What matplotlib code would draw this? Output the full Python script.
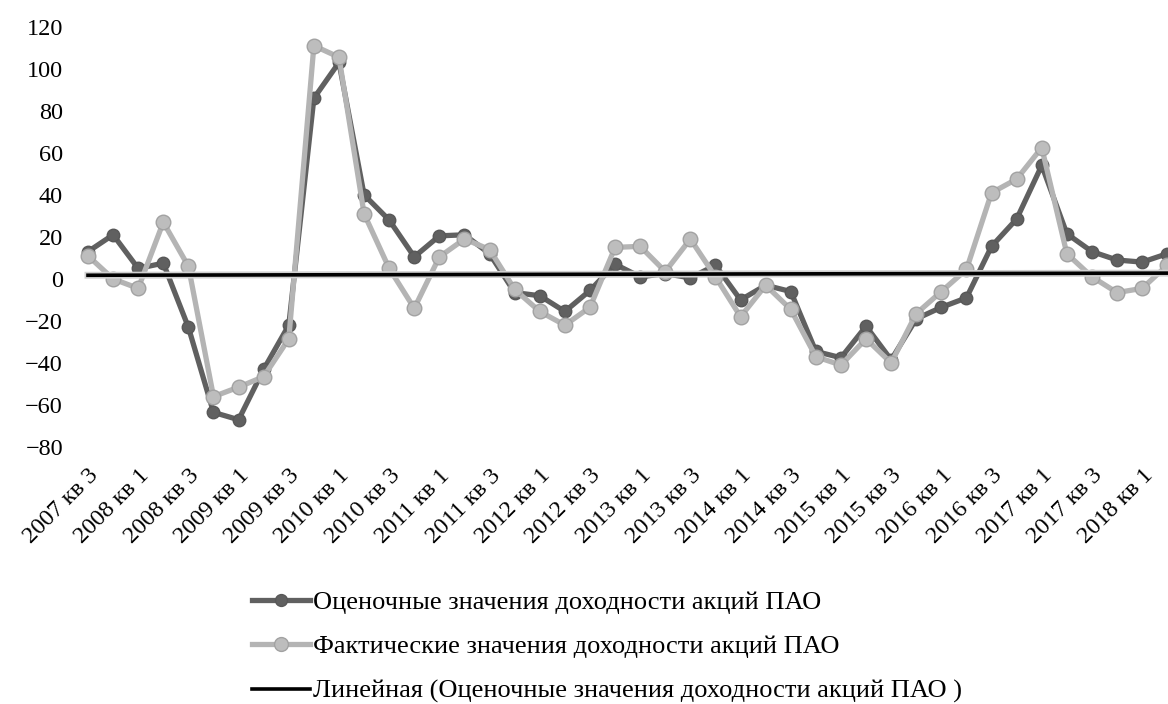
import numpy as np
import matplotlib
matplotlib.use("Agg")
import matplotlib.pyplot as plt

plt.rcParams['font.family'] = ['Liberation Serif', 'DejaVu Serif']

# кварталы с 2007 кв 3 по 2018 кв 2
quarters = []
for y in range(2007, 2019):
    for q in range(1, 5):
        quarters.append(f"{y} кв {q}")
quarters = quarters[2:2 + 44]

estimated = [13, 21, 5, 7.5, -23, -63.5, -67, -43, -22, 86,
             103, 40, 28, 10.5, 20.5, 21, 12, -6.5, -8, -15.5,
             -5.5, 7, 1, 2.5, 0.5, 6.5, -10, -3, -6, -34.5,
             -37.5, -22.5, -38.5, -19, -13.5, -9, 15.5, 28.5, 54, 21.5,
             13, 9, 8, 12]
actual = [11, 0, -4.5, 27, 6, -56, -51.5, -46.5, -28.5, 111,
          105.5, 31, 5, -14, 10.5, 19, 14, -5, -15.5, -22,
          -13.5, 15, 15.5, 3.5, 19, 1, -18, -3, -14.5, -37,
          -41, -28.5, -40, -16.5, -6, 4.5, 41, 47.5, 62.5, 12,
          1, -6.5, -4.5, 6.5]

labels_est = 'Оценочные значения доходности акций ПАО'
labels_act = 'Фактические значения доходности акций ПАО'
labels_trend = 'Линейная (Оценочные значения доходности акций ПАО )'

x = np.arange(len(quarters))
k, b = np.polyfit(x, estimated, 1)
trend = k * x + b

fig = plt.figure(figsize=(11.68, 7.04), dpi=100)
ax = fig.add_axes([0.0646, 0.365, 0.9455, 0.597])

ax.plot(x, estimated, '-o', color='#606060', lw=3.8, ms=9,
        mfc='#606060', mec='#585858', label=labels_est, zorder=2)
ax.plot(x, actual, '-o', color='#b4b4b4', lw=3.8, ms=10.5,
        mfc='#bdbdbd', mec='#a2a2a2', mew=1, label=labels_act, zorder=3)
ax.plot(x, trend, color='#d0d0d0', lw=5, zorder=3.5)
ax.plot(x, trend, color='black', lw=2.6, label=labels_trend, zorder=4)

ax.set_xlim(-0.5, len(quarters) - 0.5)
ax.set_ylim(-80, 120)
ax.set_yticks(range(-80, 121, 20))
ax.set_xticks(x[::2])
ax.set_xticklabels(quarters[::2], rotation=45, ha='right', va='top',
                   rotation_mode='anchor')
ax.tick_params(axis='both', length=0, labelsize=17.5)
ax.tick_params(axis='x', pad=13)
ax.tick_params(axis='y', pad=9)
for s in ax.spines.values():
    s.set_visible(False)

fig.legend(loc='upper left', bbox_to_anchor=(0.2158, 0.1615),
           bbox_transform=fig.transFigure, frameon=False, fontsize=19,
           handlelength=2.2, handletextpad=0.1, labelspacing=0.8,
           borderpad=0, borderaxespad=0, markerscale=0.95)

fig.savefig('out.png', dpi=100)
